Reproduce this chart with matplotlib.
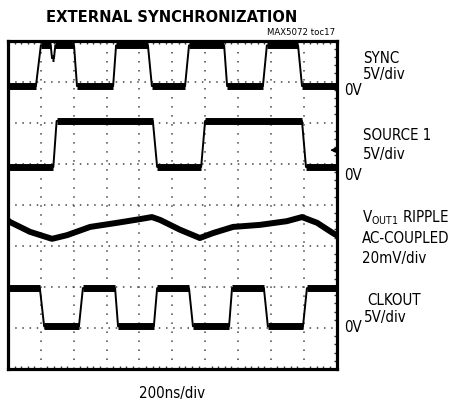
import matplotlib
matplotlib.use('Agg')
import matplotlib.pyplot as plt

plt.rcParams['font.family'] = ['DejaVu Sans']
plt.rcParams['font.stretch'] = 'condensed'

# time in divisions (200ns/div), level in screen divisions (0 = bottom)
sync_t = [0, 0.85, 1.00, 1.30, 1.34, 1.40, 1.44, 2.01, 2.10, 3.20, 3.29, 4.26, 4.38,
          5.39, 5.51, 6.58, 6.67, 7.76, 7.88, 8.83, 8.95, 10]
sync_v = [6.89, 6.89, 7.88, 7.88, 7.57, 7.57, 7.88, 7.88, 6.89, 6.89, 7.88, 7.88, 6.89,
          6.89, 7.88, 7.88, 6.89, 6.89, 7.88, 7.88, 6.89, 6.89]

src_t = [0, 1.38, 1.48, 4.41, 4.54, 5.88, 6.00, 8.95, 9.07, 10]
src_v = [4.92, 4.92, 6.04, 6.04, 4.92, 4.92, 6.04, 6.04, 4.92, 4.92]

vout_t = [0, 0.06, 0.67, 1.34, 1.80, 2.50, 3.32, 4.02, 4.38, 4.63, 5.24, 5.84,
          6.24, 6.85, 7.67, 8.49, 8.95, 9.41, 9.89, 10]
vout_v = [3.62, 3.58, 3.34, 3.17, 3.26, 3.46, 3.56, 3.65, 3.70, 3.63, 3.39, 3.19,
          3.31, 3.46, 3.51, 3.60, 3.70, 3.56, 3.31, 3.26]

clk_t = [0, 0.97, 1.10, 2.16, 2.28, 3.26, 3.35, 4.44, 4.54, 5.51, 5.63, 6.73, 6.82,
         7.79, 7.91, 8.98, 9.10, 10]
clk_v = [1.97, 1.97, 1.04, 1.04, 1.97, 1.97, 1.04, 1.04, 1.97, 1.97, 1.04, 1.04, 1.97,
         1.97, 1.04, 1.04, 1.97, 1.97]

# scope trigger-level marker on the right edge
trig_level = 5.33

W, H = 453, 404


def px(x, y):
    return x / W, 1 - y / H


fig = plt.figure(figsize=(W / 100, H / 100), dpi=100)
ax = fig.add_axes([8 / W, 1 - 369 / H, 328.5 / W, 328.5 / H])
ax.set_xlim(0, 10)
ax.set_ylim(0, 8)

# dotted graticule
ax.set_xticks(range(11))
ax.set_yticks(range(9))
ax.set_xticks([i * 0.2 for i in range(51)], minor=True)
ax.set_yticks([i * 0.2 for i in range(41)], minor=True)
ax.xaxis.grid(True, color='#444444', lw=1.1, linestyle=(0, (1, 4.9)))
ax.yaxis.grid(True, color='#444444', lw=1.1, linestyle=(0, (1, 3.7)))
ax.tick_params(which='both', labelleft=False, labelbottom=False, left=False,
               bottom=True, top=True, right=True, direction='in')
ax.tick_params(which='major', length=0)
ax.tick_params(which='minor', length=2.5, width=1, color='#333333')
for s in ax.spines.values():
    s.set_linewidth(2.3)

# square-wave traces: thin edges, thick noisy flat levels
for t, v in [(sync_t, sync_v), (src_t, src_v), (clk_t, clk_v)]:
    ax.plot(t, v, color='black', lw=1.4)
    for i in range(len(t) - 1):
        if v[i] == v[i + 1]:
            ax.plot(t[i:i + 2], v[i:i + 2], color='black', lw=5, solid_capstyle='butt')

ax.plot(vout_t, vout_v, color='black', lw=4.3, solid_joinstyle='round')

ax.annotate('', xy=(9.72, trig_level), xytext=(10, trig_level),
            arrowprops=dict(arrowstyle='-|>', color='black', lw=1, mutation_scale=7))

fs = 10.8
fig.text(*px(171.5, 22), 'EXTERNAL SYNCHRONIZATION', ha='center', va='baseline',
         fontsize=11.8, fontweight='bold')
fig.text(*px(335, 35), 'MAX5072 toc17', ha='right', va='baseline', fontsize=6.8)

labels = [
    (363, 63, 'SYNC'), (363, 79, '5V/div'), (344, 95, '0V'),
    (363, 140, 'SOURCE 1'), (363, 159, '5V/div'), (344, 180, '0V'),
    (362, 222, r'$\mathregular{V_{OUT1}}$ RIPPLE'), (362, 243, 'AC-COUPLED'),
    (362, 263, '20mV/div'),
    (367, 305, 'CLKOUT'), (364, 322, '5V/div'), (344, 332, '0V'),
]
for x, y, s in labels:
    fig.text(*px(x, y), s, ha='left', va='baseline', fontsize=fs)

fig.text(*px(172, 398), '200ns/div', ha='center', va='baseline', fontsize=fs)

fig.savefig('out.png', dpi=100)
